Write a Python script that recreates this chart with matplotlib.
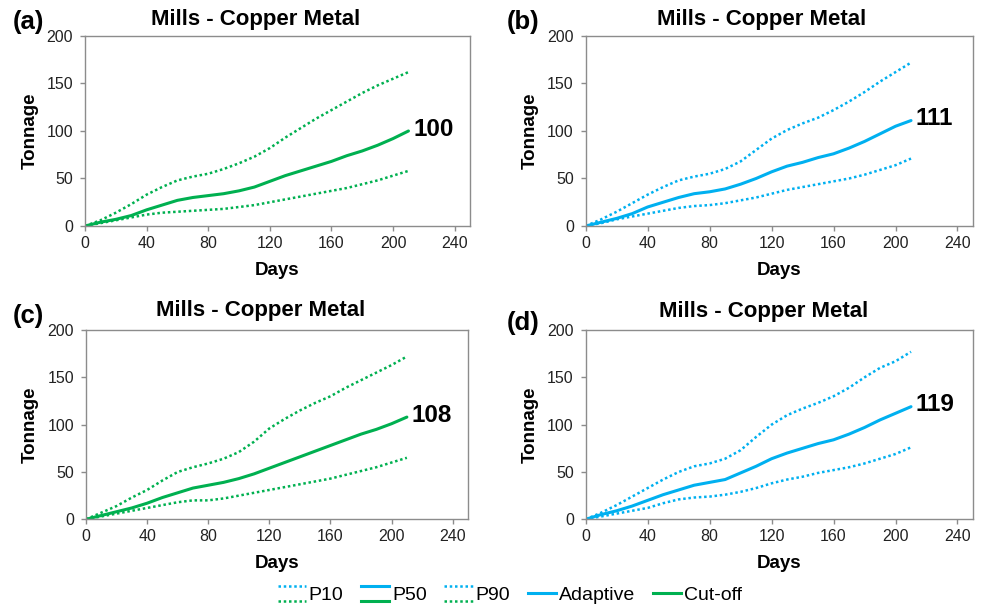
import matplotlib
matplotlib.use('Agg')
import matplotlib.pyplot as plt
from matplotlib.lines import Line2D
from matplotlib.legend_handler import HandlerBase

plt.rcParams['font.family'] = ['Liberation Sans', 'DejaVu Sans']

# data (days every 10)
days = list(range(0, 211, 10))

a_p10 = [0, 3, 6, 9, 12, 14, 15, 16, 17, 18, 20, 22, 25, 28, 31, 34, 37, 40, 44, 48, 53, 58]
a_p50 = [0, 4, 7, 11, 17, 22, 27, 30, 32, 34, 37, 41, 47, 53, 58, 63, 68, 74, 79, 85, 92, 100]
a_p90 = [0, 6, 14, 23, 33, 41, 48, 52, 55, 60, 66, 73, 82, 93, 103, 113, 122, 131, 140, 148, 155, 162]

b_p10 = [0, 3, 7, 10, 13, 16, 19, 21, 22, 24, 27, 30, 34, 38, 41, 44, 47, 50, 54, 59, 64, 71]
b_p50 = [0, 4, 8, 13, 20, 25, 30, 34, 36, 39, 44, 50, 57, 63, 67, 72, 76, 82, 89, 97, 105, 111]
b_p90 = [0, 7, 15, 24, 33, 41, 48, 52, 55, 60, 68, 80, 92, 101, 108, 114, 122, 131, 141, 152, 162, 172]

c_p10 = [0, 3, 6, 9, 12, 15, 18, 20, 20, 22, 25, 28, 31, 34, 37, 40, 43, 47, 51, 55, 60, 65]
c_p50 = [0, 4, 8, 12, 17, 23, 28, 33, 36, 39, 43, 48, 54, 60, 66, 72, 78, 84, 90, 95, 101, 108]
c_p90 = [0, 7, 14, 23, 31, 41, 50, 55, 59, 64, 71, 82, 96, 106, 115, 123, 130, 139, 147, 155, 163, 172]

d_p10 = [0, 3, 6, 9, 12, 17, 21, 23, 24, 26, 29, 33, 38, 42, 45, 49, 52, 55, 59, 64, 69, 76]
d_p50 = [0, 5, 9, 14, 20, 26, 31, 36, 39, 42, 49, 56, 64, 70, 75, 80, 84, 90, 97, 105, 112, 119]
d_p90 = [0, 7, 15, 24, 33, 42, 50, 56, 59, 64, 73, 87, 100, 110, 117, 123, 130, 139, 150, 160, 167, 177]

tags = ['(a)', '(b)', '(c)', '(d)']
green = '#00b050'
blue = '#00b0f0'
grey = '#8c8c8c'

panels = [
    (a_p10, a_p50, a_p90, green),
    (b_p10, b_p50, b_p90, blue),
    (c_p10, c_p50, c_p90, green),
    (d_p10, d_p50, d_p90, blue),
]

# axes rectangles in figure fraction
rects = [
    [0.0864, 0.6283, 0.3913, 0.3125],
    [0.5952, 0.6283, 0.3936, 0.3125],
    [0.0874, 0.1459, 0.3882, 0.3113],
    [0.5952, 0.1459, 0.3936, 0.3113],
]
title_pos = [(0.260, 0.968), (0.774, 0.968), (0.265, 0.490), (0.776, 0.487)]
tag_pos = [(0.013, 0.963), (0.515, 0.963), (0.013, 0.481), (0.515, 0.468)]

dot = (0, (1, 1.1))

fig = plt.figure(figsize=(9.84, 6.08), dpi=100)

for i, (p10, p50, p90, col) in enumerate(panels):
    ax = fig.add_axes(rects[i])
    ax.plot(days, p90, color=col, lw=1.8, linestyle=dot)
    ax.plot(days, p10, color=col, lw=1.8, linestyle=dot)
    ax.plot(days, p50, color=col, lw=2.2, solid_capstyle='round')
    ax.text(days[-1] + 3, p50[-1] + 2, str(p50[-1]), fontsize=17.5,
            fontweight='bold', ha='left', va='center')
    ax.set_xlim(0, 250)
    ax.set_ylim(0, 200)
    ax.set_xticks(range(0, 241, 40))
    ax.set_yticks(range(0, 201, 50))
    for s in ax.spines.values():
        s.set_color(grey)
        s.set_linewidth(1.0)
    ax.tick_params(direction='out', length=3.5, width=1, color=grey,
                   labelsize=11.5, labelcolor='#222222')
    ax.tick_params(axis='y', pad=5)
    ax.set_xlabel('Days', fontsize=13.5, fontweight='bold', labelpad=8)
    ax.set_ylabel('Tonnage', fontsize=13.5, fontweight='bold', labelpad=6)
    fig.text(*title_pos[i], 'Mills - Copper Metal', fontsize=16,
             fontweight='bold', ha='center', va='center')
    fig.text(*tag_pos[i], tags[i], fontsize=18.5, fontweight='bold',
             ha='left', va='center')


class HandlerStack(HandlerBase):
    # two legend lines drawn one above the other
    def create_artists(self, legend, orig_handle, xdescent, ydescent,
                       width, height, fontsize, trans):
        out = []
        n = len(orig_handle)
        for k, h in enumerate(orig_handle):
            y = height * (1.05 - 1.1 * k / max(n - 1, 1)) - ydescent
            ln = Line2D([-xdescent, width - xdescent], [y, y])
            ln.update_from(h)
            ln.set_transform(trans)
            out.append(ln)
        return out


def mk(col, ls, lw):
    return Line2D([], [], color=col, linestyle=ls, lw=lw)


handles = [
    (mk(blue, dot, 1.8), mk(green, dot, 1.8)),
    (mk(blue, '-', 2.2), mk(green, '-', 2.2)),
    (mk(blue, dot, 1.8), mk(green, dot, 1.8)),
    mk(blue, '-', 2.2),
    mk(green, '-', 2.2),
]
labels = ['P10', 'P50', 'P90', 'Adaptive', 'Cut-off']
fig.legend(handles, labels, handler_map={tuple: HandlerStack()},
           loc='center', bbox_to_anchor=(0.518, 0.021), ncol=5,
           frameon=False, fontsize=14, handlelength=1.45, handletextpad=0.15,
           columnspacing=0.9)

fig.savefig('out.png', dpi=100)
